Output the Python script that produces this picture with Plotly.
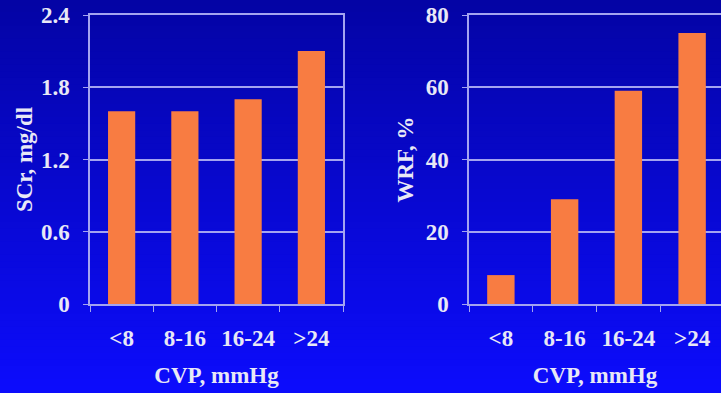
import plotly.graph_objects as go
from plotly.subplots import make_subplots

categories = ["<8", "8-16", "16-24", ">24"]
scr_values = [1.6, 1.6, 1.7, 2.1]
wrf_values = [8, 29, 59, 75]
scr_ticks = [0, 0.6, 1.2, 1.8, 2.4]
scr_ticklabels = ["0", "0.6", "1.2", "1.8", "2.4"]
wrf_ticks = [0, 20, 40, 60, 80]

W, H = 721, 393
BAR = "#F87C42"
LINE = "#A4A4F0"
TXT = "#E8E8F6"
FS = 23


def tfont():
    return dict(family="Liberation Serif", size=FS, color=TXT, weight="bold")


fig = make_subplots(rows=1, cols=2)
fig.add_trace(go.Bar(x=categories, y=scr_values, marker=dict(color=BAR, line=dict(width=0))), row=1, col=1)
fig.add_trace(go.Bar(x=categories, y=wrf_values, marker=dict(color=BAR, line=dict(width=0))), row=1, col=2)

ytop, ybot = 15, 304
ydom = [1 - ybot / H, 1 - ytop / H]
fig.update_layout(
    width=W, height=H, margin=dict(l=0, r=0, t=0, b=0, autoexpand=False),
    showlegend=False, bargap=0.57,
    plot_bgcolor="rgba(0,0,0,0)", paper_bgcolor="#0000C8",
    font=tfont(),
    xaxis=dict(domain=[90 / W, 343 / W], range=[-0.5, 3.5]),
    xaxis2=dict(domain=[469 / W, 1.0], range=[-0.5, 3.5 - 3 / 63.7]),
    yaxis=dict(domain=ydom, range=[0, 2.4], tickvals=scr_ticks, ticktext=scr_ticklabels),
    yaxis2=dict(domain=ydom, range=[0, 80], tickvals=wrf_ticks),
)

for ax in ["xaxis", "xaxis2"]:
    fig.layout[ax].update(
        type="category", tickson="boundaries", ticks="outside", ticklen=6, tickcolor=LINE,
        showline=True, linecolor=LINE, linewidth=1.5, mirror=True, showgrid=False,
        tickfont=tfont(), automargin=False,
        ticklabelstandoff=13,
        title=dict(text="CVP, mmHg", standoff=17, font=tfont()),
    )
for ax in ["yaxis", "yaxis2"]:
    fig.layout[ax].update(
        ticks="outside", ticklen=5, tickcolor=LINE,
        showline=True, linecolor=LINE, linewidth=1.5, mirror=True,
        showgrid=True, gridcolor=LINE, gridwidth=1.5, zeroline=False,
        tickfont=tfont(), automargin=False,
        ticklabelstandoff=9,
    )
fig.layout.yaxis.title = dict(text="SCr, mg/dl", standoff=2, font=tfont())
fig.layout.yaxis2.title = dict(text="WRF, %", standoff=6, font=tfont())

# vertical background gradient (dark navy top -> bright blue bottom)
n = 60
c0 = (4, 4, 165)
c1 = (12, 12, 252)
for i in range(n):
    t = i / (n - 1)
    c = tuple(int(round(c0[k] + (c1[k] - c0[k]) * t)) for k in range(3))
    fig.add_shape(type="rect", xref="paper", yref="paper",
                  x0=-0.1, x1=1.1, y0=1 - (i + 1) / n - 0.002, y1=1 - i / n + 0.002,
                  fillcolor=f"rgb{c}", line=dict(width=0), layer="below")

fig.write_html("out.html")
